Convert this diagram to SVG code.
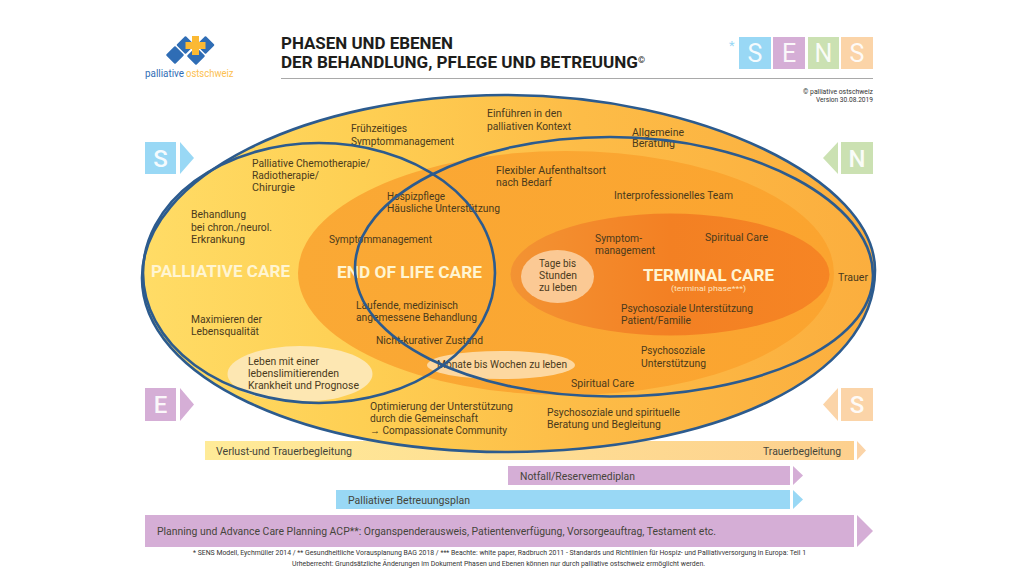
<svg xmlns="http://www.w3.org/2000/svg" width="1024" height="576" viewBox="0 0 1024 576">
<style>
text{font-family:Roboto,"Liberation Sans",sans-serif;fill:#4a3a1c;font-size:10.8px}
.big{font-weight:700;font-size:16.500px;fill:#fff5d2}
.h{font-weight:700;font-size:16px;fill:#1d1d1b}
.bar{font-size:11px;fill:#45453a}
.small{font-size:7px;fill:#333}
.sq{font-size:25px;fill:#fff;text-anchor:middle;opacity:.9}
.sd{font-size:24px;font-weight:500;fill:#fff;text-anchor:middle;opacity:.9}
.ring{fill:none;stroke:#2c5b8e;stroke-width:2.6}
.blue{fill:#99d8f5}.purple{fill:#d5aed6}.green{fill:#cbe1b2}.peach{fill:#fbd4a8}
</style>
<defs>
<linearGradient id="g1" x1="0" x2="1" y1="0" y2="0"><stop offset="0" stop-color="#ffdc66"/><stop offset=".3" stop-color="#fecf53"/><stop offset=".6" stop-color="#fdbc47"/><stop offset="1" stop-color="#fbae3e"/></linearGradient>
<linearGradient id="g2" x1="0" x2="1" y1="0" y2="0"><stop offset="0" stop-color="#faa935"/><stop offset="1" stop-color="#fba42f"/></linearGradient>
<linearGradient id="g3" x1="0" x2="1" y1="0" y2="0"><stop offset="0" stop-color="#f39333"/><stop offset=".5" stop-color="#f38023"/><stop offset="1" stop-color="#f68524"/></linearGradient>
<linearGradient id="g4" x1="0" x2="1" y1="0" y2="0"><stop offset="0" stop-color="#ffeb98"/><stop offset="1" stop-color="#fdd08e"/></linearGradient>
</defs>
<rect width="1024" height="576" fill="#fff"/>
<g id="logo">
<g fill="#2f6db5"><rect x="-6.500" y="-6.500" width="13" height="13" rx="1" transform="translate(175 55) rotate(45)"/><rect x="-6.500" y="-6.500" width="13" height="13" rx="1" transform="translate(185.500 45) rotate(45)"/><rect x="-6.500" y="-6.500" width="13" height="13" rx="1" transform="translate(205.500 45) rotate(45)"/><rect x="-6.500" y="-6.500" width="13" height="13" rx="1" transform="translate(196 56) rotate(45)"/></g>
<path d="M192 36h7v6h6.500v7h-6.500v6h-7v-6h-6.500v-7h6.500z" fill="#fbb934"/>
<text x="145" y="77" textLength="39" lengthAdjust="spacingAndGlyphs" style="font-size:11.500px;fill:#2f6db5">palliative</text>
<text x="186" y="77" textLength="47.500" lengthAdjust="spacingAndGlyphs" style="font-size:11.500px;fill:#fcc04f">ostschweiz</text>
</g>
<g id="title">
<text class="h" x="281" y="49" textLength="172" lengthAdjust="spacingAndGlyphs">PHASEN UND EBENEN</text>
<text class="h" x="281" y="68" textLength="357" lengthAdjust="spacingAndGlyphs">DER BEHANDLUNG, PFLEGE UND BETREUUNG</text>
<text class="h" x="638" y="63" style="font-size:9px">©</text>
<path d="M281 78.500H873" stroke="#a9a9a9" stroke-width="1"/>
<text class="small" x="803" y="94" textLength="70" lengthAdjust="spacingAndGlyphs">© palliative ostschweiz</text>
<text class="small" x="816" y="102" textLength="57" lengthAdjust="spacingAndGlyphs">Version 30.08.2019</text>
</g>
<g id="sens-key">
<text x="729" y="50" style="font-size:13px;fill:#99d8f5">*</text>
<rect class="blue" x="739" y="37" width="32" height="32"/><rect class="purple" x="773" y="37" width="32" height="32"/><rect class="green" x="808" y="37" width="31" height="32"/><rect class="peach" x="841" y="37" width="32" height="32"/>
<text class="sq" x="755" y="62">S</text><text class="sq" x="789" y="62">E</text><text class="sq" x="823.500" y="62">N</text><text class="sq" x="857" y="62">S</text>
</g>
<g id="side-s1"><rect class="blue" x="145" y="142" width="31" height="32"/><path class="blue" d="M180 142l14 16-14 16z"/><text class="sd" x="160.500" y="167">S</text></g>
<g id="side-n"><rect class="green" x="841" y="142" width="32" height="32"/><path class="green" d="M838 142l-15 16 15 16z"/><text class="sd" x="857" y="167">N</text></g>
<g id="side-e"><rect class="purple" x="145" y="388" width="31" height="33"/><path class="purple" d="M180 388l14 16.500-14 16.500z"/><text class="sd" x="160.500" y="413">E</text></g>
<g id="side-s2"><rect class="peach" x="841" y="388" width="32" height="33"/><path class="peach" d="M838 388l-15 16.500 15 16.500z"/><text class="sd" x="857" y="413">S</text></g>
<g id="bar-trauer"><rect x="205" y="441" width="649" height="19" fill="url(#g4)"/><path class="peach" d="M857 441l9 9.500-9 9.500z"/><text class="bar" x="216" y="455" textLength="136" lengthAdjust="spacingAndGlyphs">Verlust-und Trauerbegleitung</text><text class="bar" x="763" y="455" textLength="78" lengthAdjust="spacingAndGlyphs">Trauerbegleitung</text></g>
<g id="bar-notfall"><rect class="purple" x="508" y="466" width="282" height="19"/><path class="purple" d="M793 466l10 9.500-10 9.500z"/><text class="bar" x="520" y="480" textLength="115" lengthAdjust="spacingAndGlyphs">Notfall/Reservemediplan</text></g>
<g id="bar-plan"><rect class="blue" x="336" y="490" width="454" height="19"/><path class="blue" d="M793 490l10 9.500-10 9.500z"/><text class="bar" x="348" y="504" textLength="122" lengthAdjust="spacingAndGlyphs">Palliativer Betreuungsplan</text></g>
<g id="bar-acp"><rect class="purple" x="145" y="515" width="709" height="32"/><path class="purple" d="M857 515l16 16-16 16z"/><text class="bar" x="157" y="535" textLength="559" lengthAdjust="spacingAndGlyphs">Planning und Advance Care Planning ACP**: Organspenderausweis, Patientenverfügung, Vorsorgeauftrag, Testament etc.</text></g>
<g id="phase-outer"><path d="M142 278C142 177 305 95 505 95C700 95 875 180 875 270C875 378 715 452 505 452C305 452 142 378 142 278Z" fill="url(#g1)"/></g>
<g id="phase-end-of-life"><ellipse cx="566" cy="273" rx="268" ry="122" fill="url(#g2)"/></g>
<g id="phase-terminal"><ellipse cx="670" cy="274.500" rx="159.500" ry="61" fill="url(#g3)"/></g>
<g id="blobs">
<ellipse cx="300" cy="374" rx="72.500" ry="28" fill="#fde7b2"/>
<ellipse cx="501" cy="365" rx="74" ry="14" fill="#fdd8a0"/>
<ellipse cx="557.500" cy="276.500" rx="36.500" ry="26.500" fill="#fbc994"/>
</g>
<g id="labels">
<text class="big" x="151" y="277" textLength="139" lengthAdjust="spacingAndGlyphs">PALLIATIVE CARE</text>
<text class="big" x="337" y="278" textLength="145" lengthAdjust="spacingAndGlyphs">END OF LIFE CARE</text>
<text class="big" x="643" y="281" textLength="131" lengthAdjust="spacingAndGlyphs">TERMINAL CARE</text>
<text x="671" y="291" textLength="75" lengthAdjust="spacingAndGlyphs" style="font-size:7.500px;fill:#fde3bf">(terminal phase***)</text>
<text x="351" y="132" textLength="56" lengthAdjust="spacingAndGlyphs">Frühzeitiges</text><text x="351" y="145" textLength="103" lengthAdjust="spacingAndGlyphs">Symptommanagement</text>
<text x="487" y="117" textLength="75" lengthAdjust="spacingAndGlyphs">Einführen in den</text><text x="487" y="130" textLength="84" lengthAdjust="spacingAndGlyphs">palliativen Kontext</text>
<text x="632" y="136" textLength="52" lengthAdjust="spacingAndGlyphs">Allgemeine</text><text x="632" y="147" textLength="43" lengthAdjust="spacingAndGlyphs">Beratung</text>
<text x="252" y="167" textLength="118" lengthAdjust="spacingAndGlyphs">Palliative Chemotherapie/</text><text x="252" y="179" textLength="67" lengthAdjust="spacingAndGlyphs">Radiotherapie/</text><text x="252" y="191" textLength="43" lengthAdjust="spacingAndGlyphs">Chirurgie</text>
<text x="496" y="174" textLength="110" lengthAdjust="spacingAndGlyphs">Flexibler Aufenthaltsort</text><text x="496" y="186" textLength="56" lengthAdjust="spacingAndGlyphs">nach Bedarf</text>
<text x="387" y="200" textLength="58" lengthAdjust="spacingAndGlyphs">Hospizpflege</text><text x="387" y="212" textLength="113" lengthAdjust="spacingAndGlyphs">Häusliche Unterstützung</text>
<text x="614" y="199" textLength="119" lengthAdjust="spacingAndGlyphs">Interprofessionelles Team</text>
<text x="191" y="218" textLength="55" lengthAdjust="spacingAndGlyphs">Behandlung</text><text x="191" y="231" textLength="81" lengthAdjust="spacingAndGlyphs">bei chron./neurol.</text><text x="191" y="243" textLength="54" lengthAdjust="spacingAndGlyphs">Erkrankung</text>
<text x="329" y="243" textLength="103" lengthAdjust="spacingAndGlyphs">Symptommanagement</text>
<text x="595" y="242" textLength="47" lengthAdjust="spacingAndGlyphs">Symptom-</text><text x="595" y="254" textLength="60" lengthAdjust="spacingAndGlyphs">management</text>
<text x="705" y="241" textLength="63" lengthAdjust="spacingAndGlyphs">Spiritual Care</text>
<text x="539" y="267" textLength="37" lengthAdjust="spacingAndGlyphs">Tage bis</text><text x="539" y="279" textLength="38" lengthAdjust="spacingAndGlyphs">Stunden</text><text x="539" y="291" textLength="38" lengthAdjust="spacingAndGlyphs">zu leben</text>
<text x="838" y="281" textLength="30" lengthAdjust="spacingAndGlyphs">Trauer</text>
<text x="621" y="312" textLength="132" lengthAdjust="spacingAndGlyphs">Psychosoziale Unterstützung</text><text x="621" y="324" textLength="70" lengthAdjust="spacingAndGlyphs">Patient/Familie</text>
<text x="191" y="323" textLength="71" lengthAdjust="spacingAndGlyphs">Maximieren der</text><text x="191" y="335" textLength="68" lengthAdjust="spacingAndGlyphs">Lebensqualität</text>
<text x="356" y="309" textLength="102" lengthAdjust="spacingAndGlyphs">Laufende, medizinisch</text><text x="356" y="321" textLength="121" lengthAdjust="spacingAndGlyphs">angemessene Behandlung</text>
<text x="376" y="344" textLength="107" lengthAdjust="spacingAndGlyphs">Nicht-kurativer Zustand</text>
<text x="641" y="354" textLength="64" lengthAdjust="spacingAndGlyphs">Psychosoziale</text><text x="641" y="367" textLength="65" lengthAdjust="spacingAndGlyphs">Unterstützung</text>
<text x="248" y="365" textLength="71" lengthAdjust="spacingAndGlyphs">Leben mit einer</text><text x="248" y="377" textLength="91" lengthAdjust="spacingAndGlyphs">lebenslimitierenden</text><text x="248" y="389" textLength="111" lengthAdjust="spacingAndGlyphs">Krankheit und Prognose</text>
<text x="437" y="368" textLength="130" lengthAdjust="spacingAndGlyphs">Monate bis Wochen zu leben</text>
<text x="571" y="387" textLength="63" lengthAdjust="spacingAndGlyphs">Spiritual Care</text>
<text x="370" y="410" textLength="143" lengthAdjust="spacingAndGlyphs">Optimierung der Unterstützung</text><text x="370" y="422" textLength="108" lengthAdjust="spacingAndGlyphs">durch die Gemeinschaft</text><text x="370" y="434" textLength="137" lengthAdjust="spacingAndGlyphs">→ Compassionate Community</text>
<text x="547" y="416" textLength="133" lengthAdjust="spacingAndGlyphs">Psychosoziale und spirituelle</text><text x="547" y="428" textLength="114" lengthAdjust="spacingAndGlyphs">Beratung und Begleitung</text>
</g>
<g id="connectors">
<path class="ring" d="M142 278C142 177 305 95 505 95C700 95 875 180 875 270C875 378 715 452 505 452C305 452 142 378 142 278Z"/>
<ellipse class="ring" cx="319" cy="273" rx="176" ry="130"/>
<path class="ring" d="M355 268C355 196 470 137 610 137C755 137 873 203 873 275C873 346 755 396.500 610 396.500C470 396.500 355 340 355 268Z"/>
</g>
<g id="footer">
<text class="small" x="193" y="555" textLength="613" lengthAdjust="spacingAndGlyphs">* SENS Modell, Eychmüller 2014 / ** Gesundheitliche Vorausplanung BAG 2018 / ***  Beachte: white paper, Radbruch 2011 - Standards und Richtlinien für Hospiz- und Palliativversorgung in Europa: Teil 1</text>
<text class="small" x="292" y="566" textLength="413" lengthAdjust="spacingAndGlyphs">Urheberrecht: Grundsätzliche Änderungen im Dokument Phasen und Ebenen können nur durch palliative ostschweiz ermöglicht werden.</text>
</g>
</svg>
